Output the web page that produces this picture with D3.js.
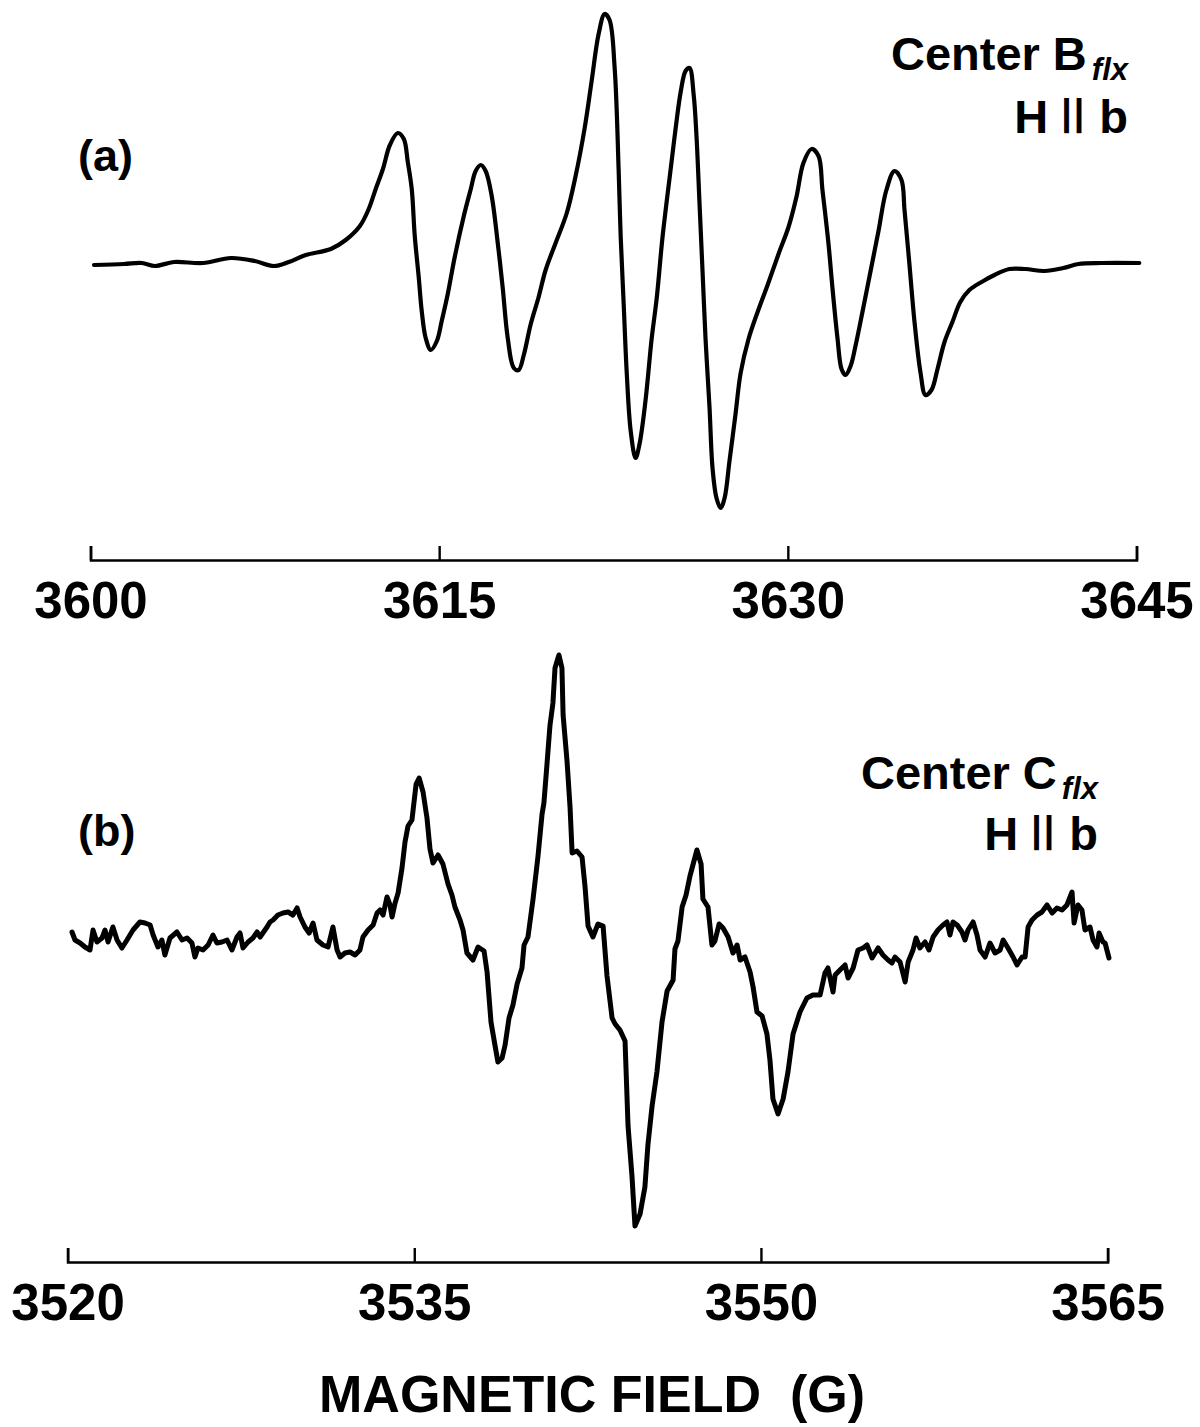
<!DOCTYPE html>
<html>
<head>
<meta charset="utf-8">
<script src="https://cdn.jsdelivr.net/npm/d3@7"></script>
<style>
  html, body { margin: 0; padding: 0; background: #fff; }
  svg { display: block; }
  text { font-family: "Liberation Sans", Arial, Helvetica, sans-serif; font-weight: bold; fill: #000; white-space: pre; }
</style>
</head>
<body>
<svg id="chart" width="1200" height="1427"></svg>
<script>
// Spectrum (a): Center B_flx, H || b — field in gauss, first-derivative signal in arbitrary units
const fieldA = [
  3600.15, 3601.44, 3602.21, 3602.77, 3603.59, 3604.84, 3606.04, 3607.07, 3607.89, 3608.53,
  3609.26, 3610.34, 3610.98, 3611.59, 3611.97, 3612.27, 3612.58, 3612.88, 3613.22, 3613.48,
  3613.65, 3613.82, 3613.95, 3614.12, 3614.25, 3614.42, 3614.64, 3614.90, 3615.11, 3615.37,
  3615.67, 3616.06, 3616.36, 3616.57, 3616.79, 3617.00, 3617.26, 3617.52, 3617.73, 3617.95,
  3618.21, 3618.42, 3618.64, 3618.94, 3619.28, 3619.58, 3620.01, 3620.49, 3620.87, 3621.26,
  3621.56, 3621.86, 3622.12, 3622.33, 3622.55, 3622.72, 3622.81, 3622.94, 3623.07, 3623.24,
  3623.45, 3623.62, 3623.88, 3624.14, 3624.36, 3624.61, 3624.96, 3625.17, 3625.39, 3625.60,
  3625.77, 3625.95, 3626.07, 3626.20, 3626.33, 3626.46, 3626.63, 3626.76, 3626.93, 3627.11,
  3627.28, 3627.49, 3627.75, 3627.97, 3628.31, 3628.70, 3629.13, 3629.60, 3630.03, 3630.37,
  3630.67, 3631.02, 3631.32, 3631.49, 3631.75, 3631.92, 3632.14, 3632.31, 3632.48, 3632.70,
  3632.91, 3633.21, 3633.56, 3633.90, 3634.24, 3634.59, 3634.89, 3635.02, 3635.23, 3635.45,
  3635.71, 3635.92, 3636.18, 3636.44, 3636.74, 3637.08, 3637.42, 3637.81, 3638.41, 3638.89,
  3639.53, 3640.22, 3641.04, 3641.85, 3642.50, 3643.49, 3645.12
];
const signalA = [
     0,    1,    2,   -1,    3,    2,    7,    4,   -1,    3,
    10,   16,   25,   39,   56,   76,   96,  120,  132,  126,
   103,   76,   29,  -12,  -46,  -73,  -85,  -76,  -56,  -29,
     8,   49,   76,   94,  100,   94,   69,   22,  -22,  -73,
  -103, -105,  -90,  -59,  -32,   -5,   22,   52,   89,  137,
   184,  231,  251,  245,  197,   96,   28,  -40, -108, -166,
  -193, -179, -135,  -74,  -33,   28,   96,  136,  173,  194,
   197,  170,  129,   62,   -6,  -74, -142, -203, -233, -243,
  -233, -196, -149, -108,  -74,  -47,  -20,   11,   38,   68,
   102,  116,  109,   75,   21,  -23,  -74, -104, -110, -101,
   -81,  -47,   -6,   34,   75,   94,   85,   55,    1,  -57,
  -108, -130, -125, -104,  -77,  -57,  -37,  -25,  -16,  -10,
    -4,   -4,   -6,   -3,    1,    2,    2
];

// Spectrum (b): Center C_flx, H || b — field in gauss, first-derivative signal in arbitrary units
const fieldB = [
  3520.19, 3520.32, 3520.54, 3520.75, 3520.97, 3521.10, 3521.27, 3521.49, 3521.62, 3521.75,
  3521.96, 3522.14, 3522.35, 3522.57, 3522.83, 3523.13, 3523.35, 3523.57, 3523.70, 3523.91,
  3524.08, 3524.21, 3524.43, 3524.73, 3524.95, 3525.17, 3525.38, 3525.51, 3525.64, 3525.86,
  3526.08, 3526.29, 3526.46, 3526.68, 3526.90, 3527.11, 3527.33, 3527.46, 3527.59, 3527.81,
  3528.02, 3528.20, 3528.33, 3528.63, 3528.76, 3528.89, 3529.10, 3529.32, 3529.54, 3529.75,
  3529.93, 3530.06, 3530.27, 3530.45, 3530.62, 3530.79, 3531.05, 3531.27, 3531.48, 3531.66,
  3531.79, 3532.00, 3532.22, 3532.44, 3532.65, 3532.78, 3533.00, 3533.22, 3533.39, 3533.52,
  3533.65, 3533.82, 3533.95, 3534.04, 3534.17, 3534.30, 3534.47, 3534.60,
  3534.73, 3534.90, 3535.08, 3535.21, 3535.38, 3535.55, 3535.68, 3535.81, 3536.03, 3536.24,
  3536.46, 3536.63, 3536.76, 3536.98, 3537.11, 3537.28, 3537.54, 3537.76, 3538.02, 3538.15,
  3538.32, 3538.49, 3538.62, 3538.80, 3538.93, 3539.10, 3539.27, 3539.45, 3539.66, 3539.75,
  3539.92, 3540.14, 3540.35, 3540.53, 3540.61, 3540.74, 3540.87, 3541.00, 3541.09, 3541.26,
  3541.39, 3541.44, 3541.61, 3541.74, 3541.83, 3542.04, 3542.26, 3542.39, 3542.52, 3542.73,
  3542.95, 3543.17, 3543.34, 3543.56, 3543.69, 3543.90, 3544.12, 3544.25, 3544.42, 3544.55,
  3544.77, 3544.98, 3545.11, 3545.29, 3545.50, 3545.72, 3545.94, 3546.20, 3546.28, 3546.41,
  3546.59, 3546.76, 3546.93, 3547.23, 3547.41, 3547.49, 3547.71, 3547.88, 3548.01, 3548.19,
  3548.36, 3548.58, 3548.79, 3548.97, 3549.10, 3549.31, 3549.53, 3549.66, 3549.83, 3550.05,
  3550.26, 3550.39, 3550.52, 3550.74, 3550.96, 3551.17, 3551.39, 3551.69,
  3551.99, 3552.25, 3552.56, 3552.77, 3552.90, 3553.12, 3553.21, 3553.42, 3553.64, 3553.77,
  3553.99, 3554.20, 3554.42, 3554.59, 3554.81, 3555.07, 3555.28, 3555.50, 3555.67, 3555.80,
  3556.02, 3556.24, 3556.37, 3556.58, 3556.71, 3556.88, 3557.10, 3557.27, 3557.45, 3557.66,
  3557.88, 3558.05, 3558.18, 3558.31, 3558.49, 3558.70, 3558.83, 3558.96, 3559.18, 3559.35,
  3559.48, 3559.70, 3559.91, 3560.13, 3560.35, 3560.48, 3560.69, 3560.91, 3561.08, 3561.30,
  3561.43, 3561.56, 3561.73, 3561.95, 3562.16, 3562.38, 3562.60, 3562.81, 3563.03, 3563.24,
  3563.46, 3563.55, 3563.72, 3563.89, 3564.02, 3564.24, 3564.37, 3564.54, 3564.63, 3564.80,
  3564.89, 3565.06
];
const signalB = [
     8,    0,   -3,   -7,  -10,   10,   -2,    2,   10,   -2,
    13,    0,   -8,    0,   10,   18,   17,   15,    5,   -7,
     0,  -15,    2,    8,    0,    2,   -3,  -17,   -8,  -10,
    -5,    5,   -3,   -2,    0,  -10,    3,    7,   -8,   -2,
     2,    8,    3,   13,   18,   20,   25,   27,   28,   25,
    32,   23,   13,    7,   17,    0,   -5,   -7,   13,  -10,
   -17,  -13,  -12,  -15,  -10,    3,   10,   15,   27,   30,
    25,   43,   35,   23,   37,   47,   72,   98,
   114,  120,  156,  162,  148,  122,   91,   77,   85,   76,
    56,   45,   33,   20,   10,  -13,  -20,   -7,  -11,  -32,
   -82, -105, -122, -118, -105,  -78,  -65,  -44,  -28,   -5,
     3,   41,   83,  126,  137,  175,  214,  237,  272,  285,
   272,  225,  179,  133,   87,   89,   83,   53,   14,    3,
    16,   14,  -36,  -78,  -84,  -90, -101, -186, -236, -286,
  -274, -247, -205, -166, -132,  -82,  -51,  -40,   -9,   -1,
    33,   45,   64,   90,   76,   41,   33,   -5,   -1,   16,
    12,    3,  -13,   -5,  -20,  -17,  -32,  -47,  -72,  -76,
   -94, -120, -159, -174, -159, -132,  -94,  -72,
   -58,  -55,  -55,  -33,  -28,  -52,  -35,  -30,  -25,  -38,
   -28,  -10,   -8,   -5,  -18,   -8,  -15,  -20,  -23,  -17,
   -22,  -42,  -22,  -10,    2,   -8,   -2,  -10,    3,   10,
    15,   18,    5,   18,   15,    8,    0,   10,   18,    5,
   -10,  -17,   -3,  -13,  -10,    0,   -8,  -17,  -25,  -17,
   -17,   13,   20,   25,   28,   35,   27,   32,   30,   35,
    48,   17,   35,   30,   10,   13,    0,   -7,    7,   -2,
    -3,  -18
];

// Axis tick values and panel annotations
const ticksA = [3600, 3615, 3630, 3645];
const ticksB = [3520, 3535, 3550, 3565];
const panelLabels = ["(a)", "(b)"];
const centerNames = ["Center B", "Center C"];
const centerSub = "flx";
const axisTitle = "MAGNETIC FIELD  (G)";

const svg = d3.select("#chart");

// "H || b": the parallel bars are set a little smaller and raised so they stand on the baseline
function orientationLabel(g, x, y, size) {
  const t = g.append("text")
    .attr("x", x)
    .attr("y", y)
    .attr("text-anchor", "end")
    .attr("font-size", size);
  t.append("tspan").text("H ");
  t.append("tspan")
    .attr("font-size", size * 0.8)
    .attr("dy", -size * 0.16)
    .attr("letter-spacing", 2)
    .text("||");
  t.append("tspan")
    .attr("dy", size * 0.16)
    .text(" b");
}

function drawPanel(cfg) {
  const x = d3.scaleLinear().domain(cfg.xDomain).range(cfg.xRange);
  const y = d3.scaleLinear().domain(cfg.yDomain).range(cfg.yRange);
  const g = svg.append("g");

  const pts = cfg.field.map((f, i) => [f, cfg.signal[i]]);
  const line = d3.line()
    .x(d => x(d[0]))
    .y(d => y(d[1]))
    .curve(cfg.curve);

  g.append("path")
    .datum(pts)
    .attr("d", line)
    .attr("fill", "none")
    .attr("stroke", "#000")
    .attr("stroke-width", cfg.strokeWidth)
    .attr("stroke-linejoin", "round")
    .attr("stroke-linecap", "round");

  // field axis: ticks point up, labels sit below the line
  const axis = d3.axisBottom(x)
    .tickValues(cfg.ticks)
    .tickFormat(d3.format("d"))
    .tickSizeInner(-14)
    .tickSizeOuter(-14)
    .tickPadding(22);

  const ax = g.append("g")
    .attr("transform", `translate(0,${cfg.axisY})`)
    .call(axis);
  ax.select(".domain").attr("stroke", "#000").attr("stroke-width", 2.6).attr("fill", "none");
  ax.selectAll(".tick line").attr("stroke", "#000").attr("stroke-width", 2.4);
  ax.selectAll(".tick text")
    .attr("font-family", "Liberation Sans, Arial, Helvetica, sans-serif")
    .attr("font-weight", "bold")
    .attr("font-size", 51)
    .attr("fill", "#000");

  // panel letter
  g.append("text")
    .attr("x", cfg.letterPos[0])
    .attr("y", cfg.letterPos[1])
    .attr("font-size", 45)
    .text(cfg.letter);

  // center name with italic subscript
  const t = g.append("text")
    .attr("x", cfg.namePos[0])
    .attr("y", cfg.namePos[1])
    .attr("text-anchor", "end")
    .attr("font-size", 47);
  t.append("tspan").text(cfg.name);
  t.append("tspan")
    .attr("font-size", 31)
    .attr("font-style", "italic")
    .attr("dx", 5)
    .attr("dy", 10)
    .text(centerSub);

  orientationLabel(g, cfg.orientPos[0], cfg.orientPos[1], 47);
}

drawPanel({
  field: fieldA, signal: signalA,
  xDomain: [3600, 3645], xRange: [90.5, 1136.5],
  yDomain: [-260, 260], yRange: [525, 5],
  ticks: ticksA, axisY: 560,
  curve: d3.curveCatmullRom.alpha(0.5),
  strokeWidth: 4.2,
  letter: panelLabels[0], letterPos: [78, 171],
  name: centerNames[0], namePos: [1128, 70],
  orientPos: [1128, 133]
});

drawPanel({
  field: fieldB, signal: signalB,
  xDomain: [3520, 3565], xRange: [67.6, 1107.6],
  yDomain: [-300, 300], yRange: [1240, 640],
  ticks: ticksB, axisY: 1262,
  curve: d3.curveLinear,
  strokeWidth: 5,
  letter: panelLabels[1], letterPos: [78, 846],
  name: centerNames[1], namePos: [1098, 789],
  orientPos: [1098, 850]
});

svg.append("text")
  .attr("x", 592)
  .attr("y", 1412)
  .attr("text-anchor", "middle")
  .attr("font-size", 52)
  .text(axisTitle);
</script>
</body>
</html>
